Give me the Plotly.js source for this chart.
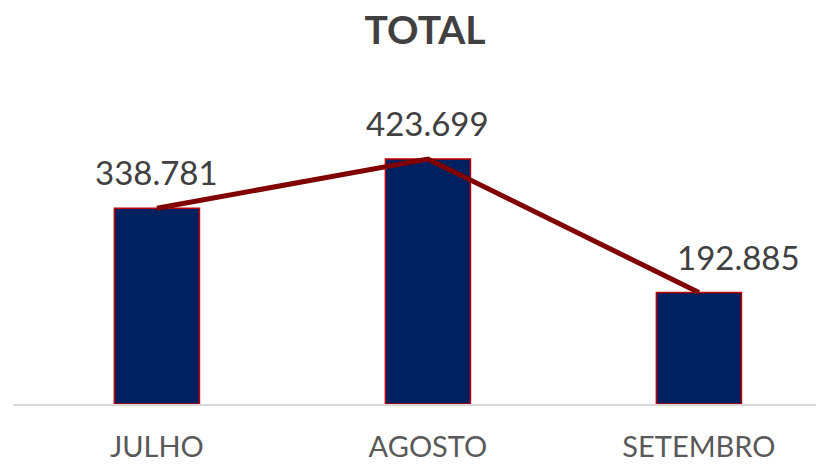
<!DOCTYPE html>
<html>
<head>
<meta charset="utf-8">
<script src="https://cdn.plot.ly/plotly-3.0.1.min.js"></script>
<style>html,body{margin:0;padding:0;background:#fff;}#chart{width:816px;height:465px;}</style>
</head>
<body>
<div id="chart"></div>
<script>
var categories = ["JULHO", "AGOSTO", "SETEMBRO"];
var totals = [338781, 423699, 192885];
var labelXShift = [0, 0, 40];

function fmt(v) {
  return String(v).replace(/\B(?=(\d{3})+(?!\d))/g, ".");
}

var bars = {
  type: "bar",
  x: categories,
  y: totals,
  width: 0.314,
  marker: { color: "#002060", line: { color: "#C00000", width: 1.5 } },
  hoverinfo: "skip",
  showlegend: false
};
var line = {
  type: "scatter",
  mode: "lines",
  x: categories,
  y: totals,
  line: { color: "#800000", width: 5 },
  hoverinfo: "skip",
  showlegend: false
};

var annotations = categories.map(function (c, i) {
  return {
    x: c, y: totals[i], xref: "x", yref: "y",
    text: fmt(totals[i]),
    showarrow: false,
    yanchor: "bottom",
    yshift: 14,
    xshift: labelXShift[i],
    font: { family: "Lato, sans-serif", size: 33, color: "#404040" }
  };
});

var layout = {
  width: 816, height: 465,
  margin: { l: 13, r: 0, t: 115, b: 61 },
  paper_bgcolor: "#ffffff",
  plot_bgcolor: "#ffffff",
  title: {
    text: "<b>TOTAL</b>",
    font: { family: "Lato, sans-serif", size: 39, color: "#404040" },
    x: 0.521, xref: "container", xanchor: "center",
    y: 0.935, yref: "container", yanchor: "middle"
  },
  xaxis: {
    type: "category",
    range: [-0.531, 2.432],
    showline: true, linecolor: "#D9D9D9", linewidth: 1.5,
    ticks: "", showgrid: false, zeroline: false,
    ticklabelstandoff: 17,
    tickfont: { family: "Lato, sans-serif", size: 29, color: "#595959" }
  },
  yaxis: {
    range: [0, 500000],
    visible: false, showgrid: false, zeroline: false
  },
  annotations: annotations
};

Plotly.newPlot("chart", [bars, line], layout, { displayModeBar: false, staticPlot: true });
</script>
</body>
</html>
